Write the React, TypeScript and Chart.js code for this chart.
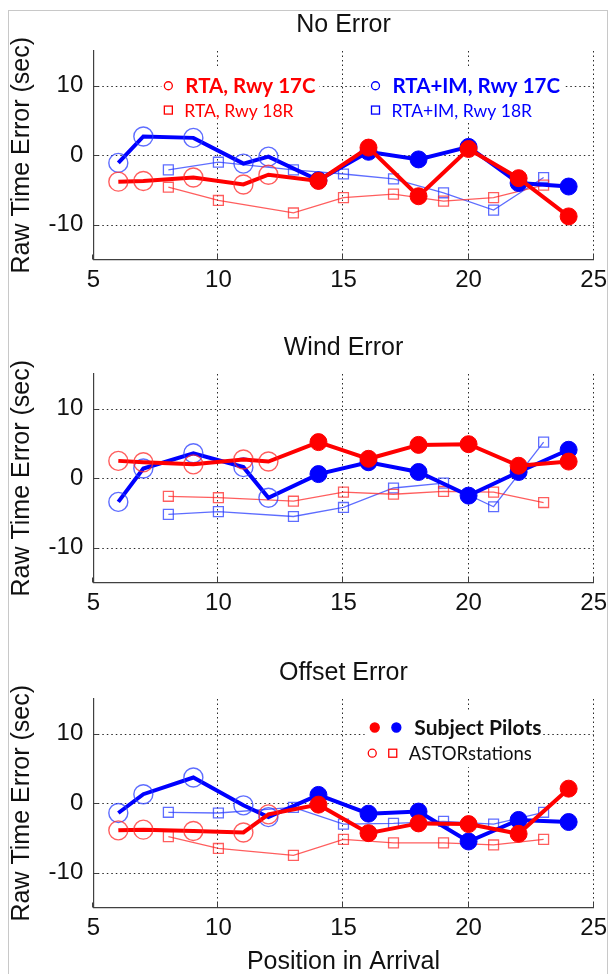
import React, { useEffect, useRef } from "react";
import { Chart, registerables } from "chart.js";

Chart.register(...registerables);

// ---------- data ----------
const positions17C = [6, 7, 9, 11, 12, 14, 16, 18, 20, 22, 24];
const positions18R = [8, 10, 13, 15, 17, 19, 21, 23];
// true = Subject Pilots (filled), false = ASTOR stations (open)
const subjectPilot17C = [false, false, false, false, false, true, true, true, true, true, true];

const noErrorRTA17C = [-3.8, -3.7, -3.2, -4.2, -2.8, -3.7, 1.1, -5.9, 0.9, -3.3, -8.8];
const noErrorIM17C = [-1.1, 2.7, 2.5, -1.2, -0.2, -3.6, 0.5, -0.6, 1.2, -4.0, -4.5];
const noErrorRTA18R = [-4.6, -6.5, -8.3, -6.1, -5.6, -6.6, -6.1, -4.3];
const noErrorIM18R = [-2.1, -1.0, -2.1, -2.7, -3.4, -5.4, -7.9, -3.2];

const windRTA17C = [2.5, 2.3, 2.0, 2.7, 2.4, 5.2, 2.8, 4.8, 4.9, 1.8, 2.4];
const windIM17C = [-3.4, 1.4, 3.6, 1.6, -2.8, 0.6, 2.3, 0.9, -2.5, 0.9, 4.1];
const windRTA18R = [-2.6, -2.8, -3.3, -2.0, -2.3, -1.9, -2.0, -3.5];
const windIM18R = [-5.2, -4.8, -5.5, -4.2, -1.4, -0.7, -4.1, 5.2];

const offsetRTA17C = [-3.9, -3.8, -4.0, -4.2, -1.6, -0.2, -4.3, -2.9, -3.0, -4.4, 2.1];
const offsetIM17C = [-1.4, 1.3, 3.7, -0.3, -2.0, 1.2, -1.5, -1.2, -5.5, -2.4, -2.7];
const offsetRTA18R = [-4.8, -6.5, -7.5, -5.2, -5.7, -5.7, -6.0, -5.2];
const offsetIM18R = [-1.3, -1.4, -0.6, -3.0, -2.9, -2.6, -3.0, -1.3];

const panelTitles = ["No Error", "Wind Error", "Offset Error"];
const yTicks = [-10, 0, 10];
const xTicks = [5, 10, 15, 20, 25];
const yAxisTitle = "Raw Time Error (sec)";
const xAxisTitle = "Position in Arrival";

const legendRTA17C = "RTA, Rwy 17C";
const legendRTA18R = "RTA, Rwy 18R";
const legendIM17C = "RTA+IM, Rwy 17C";
const legendIM18R = "RTA+IM, Rwy 18R";
const legendSubject = "Subject Pilots";
const legendAstor = "ASTORstations";

// ---------- styles ----------
const RED = "#ff0000";
const BLUE = "#0000ff";
const RED_LIGHT = "rgba(255,40,40,0.75)";
const BLUE_LIGHT = "rgba(40,60,255,0.75)";
const SANS = "'Liberation Sans', Arial, sans-serif";
const LEGEND_FONT = "Lato, 'Open Sans', sans-serif";
const GRID_COLOR = "#2a2a2a";
const LEG_BOLD = `bold 20.5px ${LEGEND_FONT}`;
const LEG_REG = `17.5px ${LEGEND_FONT}`;

const W = 613;
const AREA_LEFT = 93.3;
const AREA_RIGHT = 598;
const AREA_TOP = 51;
const AREA_BOTTOM = 259.5;

type LegendKind = "runway" | "pilots" | "none";

interface PanelProps {
  title: string;
  rta17: number[];
  im17: number[];
  rta18: number[];
  im18: number[];
  legend: LegendKind;
  showXTitle: boolean;
  top: number;
  height: number;
}

function pts(xs: number[], ys: number[]) {
  return xs.map((x, i) => ({ x, y: ys[i] }));
}

function thickDataset(label: string, ys: number[], color: string, light: string, order: number) {
  return {
    label,
    data: pts(positions17C, ys),
    borderColor: color,
    borderWidth: 4,
    pointStyle: "circle" as const,
    pointRadius: subjectPilot17C.map((s) => (s ? 8.5 : 9.5)),
    pointBackgroundColor: subjectPilot17C.map((s) => (s ? color : "rgba(0,0,0,0)")),
    pointBorderColor: subjectPilot17C.map((s) => (s ? color : light)),
    pointBorderWidth: subjectPilot17C.map((s) => (s ? 1 : 1.4)),
    tension: 0,
    order,
  };
}

function thinDataset(label: string, ys: number[], light: string, order: number) {
  return {
    label,
    data: pts(positions18R, ys),
    borderColor: light,
    borderWidth: 1.3,
    pointStyle: "rect" as const,
    pointRadius: 7,
    pointBackgroundColor: "rgba(0,0,0,0)",
    pointBorderColor: light,
    pointBorderWidth: 1.3,
    tension: 0,
    order,
  };
}

function drawCircle(ctx: CanvasRenderingContext2D, x: number, y: number, r: number, fill: string | null, stroke: string) {
  ctx.beginPath();
  ctx.arc(x, y, r, 0, Math.PI * 2);
  if (fill) {
    ctx.fillStyle = fill;
    ctx.fill();
  }
  ctx.strokeStyle = stroke;
  ctx.lineWidth = 1.3;
  ctx.stroke();
}

function drawSquare(ctx: CanvasRenderingContext2D, x: number, y: number, s: number, stroke: string) {
  ctx.strokeStyle = stroke;
  ctx.lineWidth = 1.3;
  ctx.strokeRect(x - s / 2, y - s / 2, s, s);
}

function Panel(props: PanelProps) {
  const ref = useRef<HTMLCanvasElement>(null);

  useEffect(() => {
    const canvas = ref.current;
    if (!canvas) return;
    const { title, legend, showXTitle, height } = props;

    const decorations = {
      id: "decorations",
      beforeDatasetsDraw(chart: any) {
        // dotted grid lines at the tick positions
        const ctx: CanvasRenderingContext2D = chart.ctx;
        const area = chart.chartArea;
        const xs = chart.scales.x;
        const ys = chart.scales.y;
        ctx.save();
        ctx.strokeStyle = GRID_COLOR;
        ctx.lineWidth = 1;
        ctx.setLineDash([1.5, 3]);
        for (const t of xTicks) {
          if (t === xs.min) continue;
          const px = Math.round(xs.getPixelForValue(t)) - 0.5;
          ctx.beginPath();
          ctx.moveTo(px, area.bottom);
          ctx.lineTo(px, area.top);
          ctx.stroke();
        }
        for (const t of yTicks) {
          const py = Math.round(ys.getPixelForValue(t)) + 0.5;
          ctx.beginPath();
          ctx.moveTo(area.left, py);
          ctx.lineTo(area.right, py);
          ctx.stroke();
        }
        ctx.restore();
      },
      afterDatasetsDraw(chart: any) {
        const ctx: CanvasRenderingContext2D = chart.ctx;
        const xs = chart.scales.x;
        const ys = chart.scales.y;
        ctx.save();
        if (legend === "runway") {
          const row1 = ys.getPixelForValue(10);
          const row2 = ys.getPixelForValue(6.5);
          const groups = [
            { ax: xs.getPixelForValue(8.0), c: RED, l1: legendRTA17C, l2: legendRTA18R },
            { ax: xs.getPixelForValue(16.28), c: BLUE, l1: legendIM17C, l2: legendIM18R },
          ];
          for (const g of groups) {
            ctx.font = LEG_BOLD;
            const w1 = ctx.measureText(g.l1).width;
            ctx.font = LEG_REG;
            const w2 = ctx.measureText(g.l2).width;
            const right = g.ax + 17 + Math.max(w1, w2) + 4;
            ctx.fillStyle = "#ffffff";
            ctx.fillRect(g.ax - 7, row1 - 18, right - (g.ax - 7), row2 - row1 + 30);
            drawCircle(ctx, g.ax, row1, 4, null, g.c);
            drawSquare(ctx, g.ax, row2, 8, g.c);
            ctx.fillStyle = g.c;
            ctx.textBaseline = "middle";
            ctx.textAlign = "left";
            ctx.font = LEG_BOLD;
            ctx.fillText(g.l1, g.ax + 17, row1 + 1);
            ctx.font = LEG_REG;
            ctx.fillText(g.l2, g.ax + 16, row2 + 1);
          }
        } else if (legend === "pilots") {
          const row1 = ys.getPixelForValue(10.9);
          const row2 = ys.getPixelForValue(7.2);
          const ax = xs.getPixelForValue(16.25);
          ctx.font = `bold 21px ${LEGEND_FONT}`;
          const w1 = ctx.measureText(legendSubject).width;
          ctx.fillStyle = "#ffffff";
          ctx.fillRect(ax - 10, row1 - 16, 40 + w1 + 10, row2 - row1 + 30);
          drawCircle(ctx, ax, row1, 4.5, RED, RED);
          drawCircle(ctx, ax + 21.6, row1, 4.5, BLUE, BLUE);
          drawCircle(ctx, ax - 2.5, row2, 4, null, RED);
          drawSquare(ctx, ax + 18, row2, 8, RED);
          ctx.fillStyle = "#111111";
          ctx.textBaseline = "middle";
          ctx.textAlign = "left";
          ctx.font = `bold 21px ${LEGEND_FONT}`;
          ctx.fillText(legendSubject, ax + 39.6, row1 + 1);
          ctx.font = `18.5px ${LEGEND_FONT}`;
          ctx.fillText(legendAstor, ax + 34, row2 + 1);
        }
        ctx.restore();
      },
      afterDraw(chart: any) {
        const ctx: CanvasRenderingContext2D = chart.ctx;
        const area = chart.chartArea;
        const cx = (area.left + area.right) / 2;
        ctx.save();
        ctx.fillStyle = "#111111";
        ctx.textAlign = "center";
        ctx.textBaseline = "alphabetic";
        ctx.font = `25px ${SANS}`;
        ctx.fillText(title, cx, 32.3);
        // y axis title
        ctx.save();
        ctx.translate(29, (area.top + area.bottom) / 2);
        ctx.rotate(-Math.PI / 2);
        ctx.font = `25px ${SANS}`;
        ctx.fillText(yAxisTitle, 0, 0);
        ctx.restore();
        if (showXTitle) {
          ctx.font = `25px ${SANS}`;
          ctx.fillText(xAxisTitle, cx, 321.3);
        }
        // inward tick marks
        ctx.strokeStyle = "#404040";
        ctx.lineWidth = 1;
        const xs = chart.scales.x;
        const ys = chart.scales.y;
        for (const t of xTicks) {
          const px = Math.round(xs.getPixelForValue(t)) - 0.5;
          ctx.beginPath();
          ctx.moveTo(px, area.bottom);
          ctx.lineTo(px, area.bottom - 5);
          ctx.stroke();
        }
        for (const t of yTicks) {
          const py = Math.round(ys.getPixelForValue(t)) + 0.5;
          ctx.beginPath();
          ctx.moveTo(area.left, py);
          ctx.lineTo(area.left + 5, py);
          ctx.stroke();
        }
        ctx.restore();
      },
    };

    const chart = new Chart(canvas, {
      type: "line",
      data: {
        datasets: [
          thickDataset(legendRTA17C, props.rta17, RED, RED_LIGHT, 0),
          thickDataset(legendIM17C, props.im17, BLUE, BLUE_LIGHT, 1),
          thinDataset(legendRTA18R, props.rta18, RED_LIGHT, 2),
          thinDataset(legendIM18R, props.im18, BLUE_LIGHT, 3),
        ] as any,
      },
      options: {
        animation: false,
        responsive: false,
        devicePixelRatio: window.devicePixelRatio || 1,
        layout: { padding: { top: AREA_TOP, right: W - AREA_RIGHT, left: 0, bottom: 0 } },
        plugins: {
          legend: { display: false },
          title: { display: false },
          tooltip: { enabled: false },
        },
        scales: {
          x: {
            type: "linear",
            min: 5,
            max: 25,
            afterBuildTicks: (scale: any) => {
              scale.ticks = xTicks.map((v) => ({ value: v }));
            },
            afterFit: (scale: any) => {
              scale.height = height - AREA_BOTTOM;
            },
            ticks: {
              font: { family: SANS, size: 24 },
              color: "#111111",
              padding: 6,
              maxRotation: 0,
              autoSkip: false,
            },
            grid: { display: false, drawTicks: false },
            border: { display: true, color: "#404040", width: 1.2 },
          },
          y: {
            type: "linear",
            min: -15,
            max: 15,
            afterBuildTicks: (scale: any) => {
              scale.ticks = yTicks.map((v) => ({ value: v }));
            },
            afterFit: (scale: any) => {
              scale.width = AREA_LEFT;
            },
            ticks: {
              font: { family: SANS, size: 24 },
              color: "#111111",
              padding: 10,
            },
            grid: { display: false, drawTicks: false },
            border: { display: true, color: "#404040", width: 1.2 },
          },
        },
      } as any,
      plugins: [decorations],
    });
    return () => chart.destroy();
  }, []);

  return (
    <div style={{ position: "absolute", left: 0, top: props.top, width: W, height: props.height }}>
      <canvas ref={ref} width={W} height={props.height} style={{ width: W, height: props.height, display: "block" }} />
    </div>
  );
}

export default function App() {
  return (
    <div style={{ position: "absolute", left: 0, top: 0, width: W, height: 974, background: "#ffffff", overflow: "hidden" }}>
      <div
        style={{
          position: "absolute",
          left: 8,
          top: 10,
          width: 600,
          height: 980,
          border: "1px solid #c8c8c8",
          boxSizing: "border-box",
        }}
      />
      <Panel title={panelTitles[0]} rta17={noErrorRTA17C} im17={noErrorIM17C} rta18={noErrorRTA18R} im18={noErrorIM18R} legend="runway" showXTitle={false} top={0} height={324} />
      <Panel title={panelTitles[1]} rta17={windRTA17C} im17={windIM17C} rta18={windRTA18R} im18={windIM18R} legend="none" showXTitle={false} top={323} height={324} />
      <Panel title={panelTitles[2]} rta17={offsetRTA17C} im17={offsetIM17C} rta18={offsetRTA18R} im18={offsetIM18R} legend="pilots" showXTitle={true} top={648} height={326} />
    </div>
  );
}
